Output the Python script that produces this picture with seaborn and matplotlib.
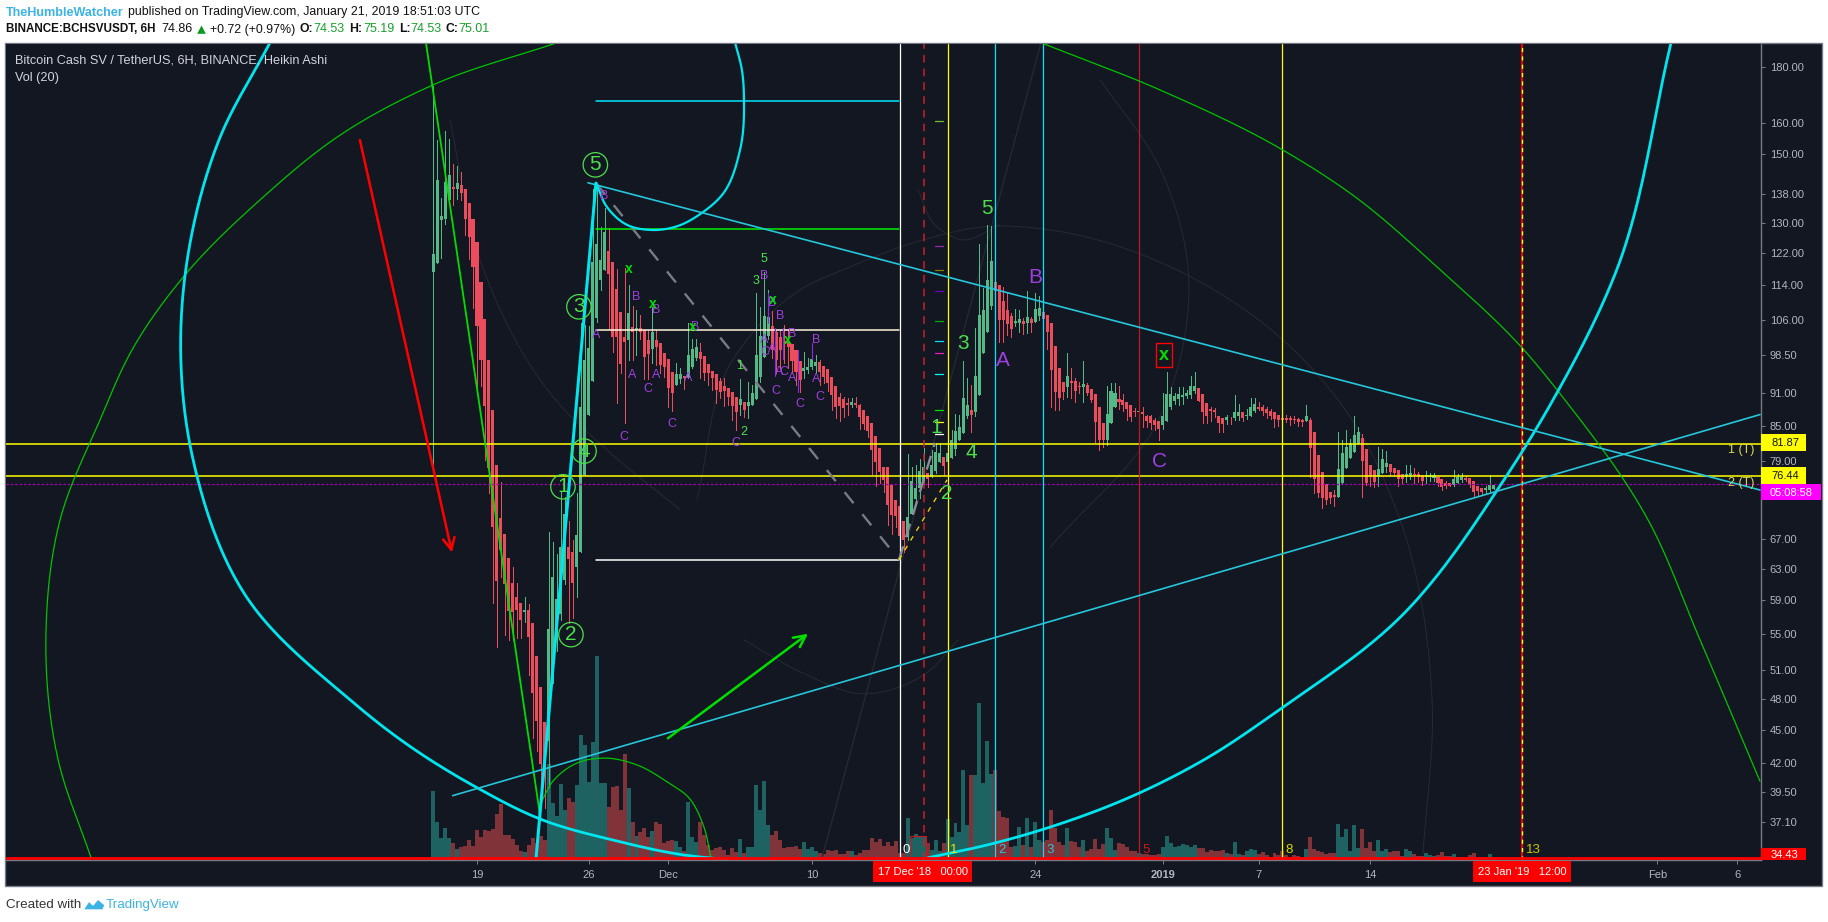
import numpy as np
import pandas as pd
import seaborn as sns
import matplotlib
matplotlib.use("Agg")
import matplotlib.pyplot as plt
from matplotlib.patches import Rectangle, Polygon

# ---------- candles (Heikin Ashi, 6H bars, first bar 16 Nov 2018 06:00) ----------
opens = [117.3,119.5,130.7,131,136.3,140,139.5,140.6,139.5,135.5,
 131,124.9,114.8,106.3,97.6,87.9,78.3,70,67.7,64.5,
 61.2,59.4,58.7,57.6,57.8,56.2,52.5,49.2,45.7,43.9,
 49.6,55.6,57.3,61.6,66,65.3,63.2,65.3,76.7,87,
 93.4,106.5,115.3,117.8,122.5,119.7,113.1,107.8,102.3,101.7,
 104.6,103.9,104.3,103.9,101.7,99.8,101.7,101,99,97.8,
 95.1,92.6,93.8,94.3,94,96.1,98,99.2,98.4,96.8,
 95.3,94.7,93.4,92.4,92,91.2,90.2,88.8,89.3,88.6,
 88.8,89.9,94.2,98.2,102.5,104.8,103.3,102.3,101.5,101.3,
 100.8,99.6,97.4,95.3,95.5,96.1,96.4,97.2,96.3,95.7,
 94.2,92.4,90.2,89.8,89.1,88.8,89.1,88.8,87.9,86.8,
 85.5,83.2,81.1,78,78,75.1,72.8,71.8,69.7,67.4,
 70.7,72.9,74.6,75.7,77,76.4,77.3,78.8,79.6,78.8,
 79.4,81,82.5,83.7,86.8,87.9,87.4,90.7,98.9,103.5,
 109.1,114.8,114.1,110.3,108.3,107,105.4,105.4,105.9,105.4,
 106.3,105.7,107,107.8,107.2,105.4,100.4,95.9,93.2,92.2,
 93.4,93.4,92.4,92.2,92.6,91.8,90.8,88.4,85.5,82.5,
 85.5,88.4,89.9,89.7,89.3,88.8,87.6,87.4,87.5,86.8,
 86.8,86,85.8,85.1,85.8,88.3,89.5,89.9,90.2,90.4,
 90.6,91.4,92,90.8,89.2,88,87.9,86.8,86.4,86,
 86.4,86.4,86.8,87.4,86.7,86.8,87.6,88.4,88.4,88,
 87.6,87.4,87,86.3,86.3,86.3,86.2,86.2,86,85.8,
 86,83.9,80,77.2,75.3,74,73.5,73.2,75.4,77.8,
 79.4,80.5,81.8,82.8,81,78.3,77.5,76.4,77,78,
 78.4,77.8,77.5,76.9,76.4,76.4,76.9,76.9,76.7,76.4,
 76.4,76.2,76.4,76,75.4,75.4,75.1,75.4,75.9,76.2,
 76.2,75.7,75,74.6,74.3,74.3,74.53]
closes = [121.7,142.1,131.8,141.5,143.6,139.5,141.2,138.3,131,126.2,
 118.5,104.8,97.6,88.6,77.8,68.7,61.4,65.6,61,57.7,
 57.6,57.8,56.6,57.8,54.6,48.6,45.8,41.9,41.9,55.5,
 61.9,59.2,65.9,70.6,64.3,61.2,67.6,88.4,97.6,100,
 119.7,124.4,120.2,127.5,116.7,102.3,102.3,96.8,101.3,107.6,
 103.3,104.3,103.5,98.2,98.8,103.5,100.2,96.5,96.1,92,
 91,94.7,94.7,94,98.6,99.8,100.2,97.8,95,95,
 94,91.6,91.2,91.4,90.2,88.6,87.5,89.9,87.9,89.3,
 91,98.6,102.5,107,106.8,99.6,97.6,99.6,100.8,100.2,
 97.4,95.1,93.6,95.9,96.1,97.8,97.2,95.1,94.2,93,
 90.7,88.4,88.6,88.2,88.8,89.3,88.8,86.6,85.3,84.1,
 80.8,78.8,77.2,75.9,72,70.5,70.4,67.5,66.9,70.2,
 75.7,74.6,77.3,77.9,76,78.3,80.4,80.3,78.1,80.3,
 82.5,84.1,84.8,90,88.8,87,94.4,107.2,108.3,115.3,
 120,112.7,106.1,106.1,105.2,104.1,105.9,106.3,105.2,106.8,
 105.4,108.5,108.8,106.3,103.3,95.5,91.2,90,91.2,94.4,
 93,91.4,92.2,92.8,91,89.7,85.7,82.5,82.5,87.1,
 91.4,91,89.3,88.8,88,86.6,87.4,87.6,87.1,85.9,
 85.4,85.1,84.4,86.8,90.8,90.8,90.4,90.8,90.6,91,
 92.4,92.4,89.5,87.4,86.8,87.6,87.4,85.5,85.3,86.6,
 86.3,87.5,87.5,86.4,87,88.4,89,88,87.6,87.2,
 86.8,86.2,86,86.1,86.1,86,86.1,85.6,85.6,86.8,
 81.1,76,73.9,73.1,72.7,73,73.2,77.6,80.3,81.3,
 81.9,83.4,83.9,78.9,75.4,76.4,75.6,77.6,79.3,78.6,
 77.2,77,76,76,76.9,77,76.7,76.4,75.7,76.6,
 76.6,76.6,75.4,74.8,75,75,76,76.4,76.4,75.9,
 75.1,74,74.2,74,74.6,75.1,75.01]
highs = [173,154.5,136.9,157.5,154.8,147,146.3,144.5,139.5,135.5,
 131,124.9,114.8,106.3,97.6,87.9,78.3,75.6,67.7,64.5,
 63.3,61.2,58.7,59.4,58.5,56.2,52.5,49.2,45.7,68.1,
 66.6,65,74.2,73.2,69.6,66.9,73.9,105.4,105,104.8,
 139.5,141,128.8,134,128.5,119.7,118,107.8,118.2,114,
 109.1,108.3,107.2,103.9,103.9,109,103.9,101,99,97.8,
 95.1,97,96,94.3,105.4,102,102,101,98.4,96.8,
 95.3,94.7,94,94,92,91.2,90.2,93.8,89.3,93.2,
 92.6,112.2,109,117.2,112.9,108,104,104,105,104,
 100.8,99.6,97.4,99.2,98,99.4,98.5,97.6,96.3,95.7,
 94.2,92.4,91,90.2,90,90,90.2,89,87.9,86.8,
 85.5,83.2,81.1,78,78,75.1,72.8,71.8,69.7,80.1,
 77.9,78.3,79.3,81.1,77,80.8,82,82,79.6,85.5,
 84.3,87.1,87,97.4,94,92.6,104.3,124.3,113.4,129.3,
 129,124.4,114.1,113.6,112.2,107.5,108.5,108.3,106.5,112.7,
 106.8,112.2,111.4,110,107.2,105.4,100.4,95.9,93.2,99,
 96,94,93.2,97.4,93,91.8,90.8,88.4,85.5,92.4,
 93,93,92.4,90.8,89.3,88.8,88.2,89,88.4,87,
 87,86.3,85.8,91,95.1,92.2,91,92.2,92.2,91.6,
 94.4,95.1,92,90.8,89.2,88.4,88.2,86.8,86.4,87,
 86.6,90.6,89,87.4,88,90,90,89.3,88.8,88.4,
 88,87.5,87,88,86.9,86.8,86.7,86.4,86.2,88.8,
 86.3,83.9,80,77.2,75.3,74,74.3,83.8,82.5,84.3,
 82.7,86.8,84.8,83.5,81,78.3,77.5,81.3,81,80.6,
 78.4,77.8,77.5,76.9,78.3,78.3,77.8,77.2,76.7,77.3,
 77,77,76.4,76,75.7,75.4,77.5,76.9,77,76.5,
 76.2,75.7,75,74.6,75,76.7,75.19]
lows = [78.2,119.5,120.7,129.6,135.5,134.8,136.6,136.3,126.7,120.5,
 108.8,91.6,92.4,79.1,73.9,58.7,53.5,61.9,54.8,54.3,
 54.3,54.5,54.5,56.4,50.5,44.2,43,38.7,38.2,39.9,
 49.6,53,56.6,61,56.2,56.9,59.4,65.3,76.7,87,
 93.4,105.6,113,117.8,104.1,99.2,89.2,95,85.4,97.6,
 97.6,98.6,102,93.8,93.8,97,96.5,95,94.2,88.3,
 87.7,92.6,93,91.8,94,96,97.6,94,93.6,92.6,
 91.6,89.2,90,88.6,88.8,86,84.3,87,86.5,86.4,
 88.8,89.9,93.2,98.2,102,98,95,96,97,96,
 95,92.6,91.2,94,95,95.7,95,92.6,93,91.4,
 87.9,86.4,85.8,86.5,87,88.4,88.4,84.5,84.5,83,
 76.9,74.9,75.4,74,69.1,67.7,68.8,64.2,65.3,66.9,
 70.7,72.7,73,75.3,74.7,76.4,77,78.8,76.7,78.8,
 79.4,80,82.5,83.7,86.4,83.8,86.8,90.7,98.9,103.5,
 108.6,101.3,101.3,101.3,102.8,102.3,104.8,103.5,103,103.1,
 103.5,105.7,106,103.6,99.8,88.4,87.9,87.9,89.9,90.2,
 90,89.4,91,89.4,90.6,89.3,82.2,80.8,81.3,81.6,
 85.5,88.4,88,87.6,86,85.8,86.8,86.6,84.8,84.8,
 84.4,84.2,82.5,84.5,85.8,88,89,88.8,89,90,
 90,91,89.5,85.5,85.5,85.8,86.5,83.9,83.9,85.3,
 85.3,86,86,85.8,86.2,86.7,87.5,87.8,87,86.4,
 86.2,84.8,85,85.3,85.6,85.2,85.5,85,85,85.8,
 76.4,73.9,73.2,71.6,72.2,72.3,71.9,73.2,75.4,77.8,
 79.4,80.5,81.8,73.2,75.1,75,74.8,75,77,77.2,
 76.5,76.5,74.9,75.4,75.6,76,75.4,75.6,75.1,75.4,
 75.7,75.7,75,74.3,74.6,74.9,75,75.4,75.6,75.7,
 74.8,73.2,73.5,73.5,73.8,73.8,74.53]
volumes = [69,38,22,32,22,17,11,13,14,20,
 14,30,23,30,29,31,46,56,25,25,
 21,15,9,8,15,22,17,24,20,96,
 57,44,76,50,62,58,75,125,115,78,
 118,204,77,77,53,73,74,50,106,72,
 38,24,28,32,23,29,38,36,17,19,
 20,19,13,9,58,23,18,38,25,15,
 10,12,13,10,5,12,8,21,7,13,
 13,75,50,79,35,25,29,20,12,13,
 13,14,11,18,11,13,9,7,6,10,
 9,10,6,6,9,9,5,7,10,10,
 22,18,21,14,18,14,19,7,7,42,
 22,26,23,23,17,10,20,9,17,41,
 23,37,28,90,35,85,85,157,77,119,
 86,90,49,43,42,13,14,33,15,42,
 13,38,20,18,20,
 50,32,18,15,32,19,18,13,20,9,
 11,21,11,16,32,22,10,17,16,13,
 9,9,7,6,6,5,5,6,13,24,
 17,13,14,16,15,13,15,12,12,8,
 10,9,9,10,7,6,18,6,5,9,
 11,10,6,8,5,3,7,5,9,5,
 3,5,4,3,11,23,11,9,8,6,
 7,7,36,23,31,9,35,12,31,12,
 18,9,20,9,11,8,9,9,4,11,
 9,6,4,4,7,5,4,5,8,4,
 4,6,3,3,3,5,7,3,3,3,6,3]
assert len(opens) == len(closes) == len(highs) == len(lows) == len(volumes), (len(opens), len(closes), len(highs), len(lows), len(volumes))

# x unit: days after 19 Nov 2018 00:00
first_bar_day = -2.75
bar_days = 0.25
tick_days = [0, 7, 12, 21, 35, 43, 49, 56, 74, 79]
tick_names = ["19", "26", "Dec", "10", "24", "2019", "7", "14", "Feb", "6"]
price_ticks = [180, 160, 150, 138, 130, 122, 114, 106, 98.5, 91, 85, 79, 67, 63, 59, 55, 51, 48, 45, 42, 39.5, 37.1]

# ---------- drawing tools, (day, price) ----------
levels_yellow = [81.87, 76.44]
level_now = 75.3
level_low = 34.43
fib_days = [26.5, 29.5, 32.5, 35.5, 41.5, 50.5, 65.5]
fib_names = ["0", "1", "2", "3", "5", "8", "13"]
fib_colors = ["#ffffff", "#ffff00", "#00e5ff", "#00e5ff", "#b71c1c", "#ffff00", "#ffff00"]
fib_label_days = [26.9, 29.88, 32.92, 35.93, 41.95, 50.91, 66.21]
fib_label_colors = ["#ffffff", "#e8e800", "#26c6da", "#26c6da", "#cc1818", "#d8d800", "#c8c800"]
retrace_days = [7.46, 26.46]
retrace_prices = [167.8, 128.2, 103.8, 64.2]
retrace_colors = ["#00e5ff", "#00ee00", "#fff3d8", "#ffffff"]

green_left = ([-24.2,-26.27,-27.02,-26.14,-23.64,-21.63,-18.31,-13.61,-8.59,-2.76,5.02],
              [34.43,42.3,55.5,69.8,86,99.6,116.5,136.3,156.1,173.4,189.4])
green_right = ([35.36,42.82,50.53,54.73,60.38,65.64,68.21,73.35,76.68,80.44],
               [189.4,171.6,151.3,138.3,117.8,99.6,89.7,70.1,54.3,40.4])
cyan_left = ([-12.98,-16.18,-17.87,-18.56,-17.87,-14.55,-7.96,-4.83,-0.06,4.01,8.59,13.1,15.61],
             [189.4,154.5,127.2,104.8,80,59.7,47.9,44.1,39.9,37.3,35.7,34.6,34.3])
cyan_right = ([28.03,32.48,35.93,41.5,45.64,50.47,57.81,64.39,67.46,71.35,74.86],
              [34.36,35.5,36.7,39.4,42.3,47.1,56.8,75.9,89.7,116.7,189.4])
cyan_small = ([7.46,8.15,9.40,10.97,12.54,14.11,15.36,16.49,16.74,16.61,16.18],
              [141.2,134.3,129.4,128,129,132.7,137.7,151.3,168,178.9,189.4])
green_small = ([4.08,4.70,6.33,8.03,10.03,11.97,13.23,14.23,14.67],
               [38.8,40.3,42,42.4,41.8,40.3,39.1,36.7,34.4])
faint_arcs = [
 ([13.79,16.05,20.25,23.39,27.96,32.17,35.93,44.27,50.53,54.74,57.87,59.88,59.31],
  [72.8,97.6,112.9,118.5,125.4,129,128,117,101.7,86.6,69.8,47.9,34.7]),
 ([-1.69,0.19,5.08,8.15,12.73], [161.1,120.2,89.2,80.8,71.3]),
 ([16.74,20.38,24.27,28.21,30.16], [54.3,50.7,48.5,50.7,54.3]),
 ([35.93,42.82,44.59,42.82,39.07], [65.9,86.6,117.8,145.6,175.2]),
 ([27.66,28.71,30.41,32.8], [139.2,129.4,125.4,129.4]),
]
trend_upper = ([6.96, 80.44], [141.3, 74.3])
trend_lower = ([-1.52, 80.44], [39.2, 87.0])
trend_green = ([-3.2, 3.99], [189.4, 37.3])
thick_cyan = ([3.70, 7.46], [34.36, 141.2])
dash_grey = ([7.46, 26.46], [141.2, 64.2])
dash_grey2 = ([26.46, 28.71], [64.2, 82])
dash_yellow = ([26.46, 29.47], [64.2, 75.9])
faint_line = ([21.63, 35.36], [34.4, 189.4])
arrow_red = ((-7.34, 154.5), (-1.57, 65.2))
arrow_green = ((11.97, 44.2), (20.75, 55))
tick_marks = [160.9, 123.9, 117.8, 112.7, 105.9, 101.5, 99, 94.7, 87.9, 85.6, 83.6]
tick_mark_colors = ["#6fbf30", "#9c27b0", "#808000", "#7000c0", "#00b000", "#00e5ff", "#e91ec0", "#00ffff", "#00e000", "#ffff00", "#ffffff"]
purple_sticks = [(18.25,112.2,105.4),(18.69,104.3,94.3),(19.19,104.3,97.8),(20.12,99.6,91.2),(21.0,101,97.8)]

circled = [("5",7.42,146.7),("3",6.39,109),("4",6.71,80.6),("1",5.39,74.8),("2",5.89,54.9)]
big_green = [("5",31.97,133.8),("3",30.47,100.9),("1",28.78,84.7),("4",30.97,80.4),("2",29.47,73.7)]
big_purple = [("A",32.98,97.4),("B",34.98,116),("C",42.76,78.8)]
small_purple = [("B",7.96,137.4),("A",7.46,102.8),("B",9.97,111.3),("A",9.72,94.5),("B",11.22,108.3),
 ("A",11.22,94.5),("C",10.72,91.8),("C",9.22,83),("C",12.23,85.3),("B",13.67,104.5),("A",13.23,94),
 ("C",16.24,82),("B",17.99,116.2),("B",18.5,109.9),("B",19,107),("B",19.75,103),("A",17.99,101.7),
 ("C",18.06,99.2),("A",18.5,99.8),("A",18.94,95.1),("C",19.25,95.1),("C",18.75,91.4),("A",19.75,94),
 ("A",21.25,93.8),("B",21.25,101.7),("C",20.25,89),("C",21.5,90.2)]
small_green = [("5",17.99,120.5),("3",17.49,115.1),("1",16.49,96.3),("2",16.74,83.8)]
green_x = [(9.53,118),(11.03,109.7),(13.54,104.5),(18.56,110.6),(19.5,101.7)]
boxed_x = (43.07, 98.4)
box_x_days = (42.57, 43.57); box_x_prices = (96.1, 101)
box_vol_days = (27.15, 28.15); box_vol_prices = (34.43, 36)

# ---------- style ----------
W, H = 1828, 922
BG = "#131722"; GREY = "#787b86"; TXT = "#b2b5be"
UP = "#53b987"; DOWN = "#eb4d5c"; VUP = "#1f6262"; VDOWN = "#803339"
sns.set_theme(style="dark", rc={"axes.grid": False, "axes.facecolor": BG, "figure.facecolor": "white"})
plt.rcParams["font.family"] = ["Liberation Sans", "DejaVu Sans"]

fig = plt.figure(figsize=(W / 100, H / 100), dpi=100)
def fx(px): return px / W
def fy(py): return 1 - py / H
def box(x0, y0, x1, y1, color, z=10, edgecolor="none", linewidth=0):
    fig.patches.append(Rectangle((fx(x0), fy(y1)), (x1 - x0) / W, (y1 - y0) / H,
                                 transform=fig.transFigure, facecolor=color, zorder=z,
                                 edgecolor=edgecolor, linewidth=linewidth))
def ftext(x, y, s, color, size=8, ha="left", weight="normal", z=11):
    fig.text(fx(x), fy(y), s, color=color, fontsize=size, ha=ha, va="center", weight=weight, zorder=z)

box(5, 43, 1821.5, 885.5, BG, z=-1, edgecolor=GREY, linewidth=1)

pos = [fx(6), fy(860), 1755 / W, 816 / H]
axv = fig.add_axes(pos, zorder=1, facecolor=BG)
ax = axv.twinx()
ax.set_zorder(2)
ax.patch.set_visible(False)

days = first_bar_day + bar_days * np.arange(len(opens))
o, c, h, l = map(np.array, (opens, closes, highs, lows))
frame = pd.DataFrame({"day": days, "volume": volumes})
sns.barplot(data=frame, x="day", y="volume", native_scale=True, width=1, saturation=1,
            errorbar=None, color=VUP, linewidth=0, ax=axv)
for patch, up in zip(axv.patches, c >= o):
    patch.set_facecolor(VUP if up else VDOWN)
    patch.set_edgecolor("none")
    patch.set_antialiased(False)
axv.set_ylim(0, 816)
axv.set_xlabel(""); axv.set_ylabel("")
axv.set_yticks([])

ax.set_yscale("log")
ax.set_ylim(34.26, 188.9)
ax.yaxis.set_minor_locator(matplotlib.ticker.NullLocator())
ax.yaxis.set_minor_formatter(matplotlib.ticker.NullFormatter())

# smooth curve through the read anchor points (chord-length Hermite in screen-like units)
def smooth(xs, ys, n=24):
    P = np.column_stack([np.asarray(xs, float) * 15.95, np.log(np.asarray(ys, float)) * 477.6])
    dt = np.maximum(np.hypot(*np.diff(P, axis=0).T), 1e-6)
    m = np.zeros_like(P)
    m[0] = (P[1] - P[0]) / dt[0]
    m[-1] = (P[-1] - P[-2]) / dt[-1]
    for i in range(1, len(P) - 1):
        m[i] = ((P[i + 1] - P[i]) / dt[i] * dt[i - 1] + (P[i] - P[i - 1]) / dt[i - 1] * dt[i]) / (dt[i] + dt[i - 1])
    out = []
    for i in range(len(P) - 1):
        t = np.linspace(0, 1, n, endpoint=False)[:, None]
        out.append((2*t**3 - 3*t**2 + 1) * P[i] + (t**3 - 2*t**2 + t) * dt[i] * m[i]
                   + (-2*t**3 + 3*t**2) * P[i + 1] + (t**3 - t**2) * dt[i] * m[i + 1])
    out.append(P[-1:])
    out = np.vstack(out)
    return out[:, 0] / 15.95, np.exp(out[:, 1] / 477.6)

for xs, ys in faint_arcs:
    ax.plot(*smooth(xs, ys), color="#262a35", lw=0.7, zorder=1)
ax.plot(*faint_line, color="#262a35", lw=0.9, zorder=1)

# candles
col = np.where(c >= o, UP, DOWN)
ax.vlines(days, l, h, colors=col, linewidth=0.72, zorder=2, antialiased=False)
ax.bar(days, np.abs(c - o), bottom=np.minimum(o, c), width=0.19, color=col, linewidth=0,
       antialiased=False, zorder=2.1)

# levels and time zones
for p in levels_yellow:
    ax.axhline(p, color="#ffff00", lw=1.1, zorder=3)
ax.axhline(level_now, color="#a000b0", lw=0.9, ls=(0, (2, 1.5)), zorder=3)
ax.axhline(level_low, color="#ff0000", lw=2, zorder=3.5)
for i, (dv, cl) in enumerate(zip(fib_days, fib_colors)):
    if i == 6:
        continue
    ax.axvline(dv, color=cl, lw=0.9, zorder=3)
ax.axvline(28, color="#c8202a", lw=1.1, ls=(0, (5, 4)), zorder=3)
ax.axvline(fib_days[6], color="#ff0000", lw=1.4, zorder=3)
ax.axvline(fib_days[6], color="#ffff00", lw=1, ls=(0, (3, 3)), zorder=3.1)
for p, cl in zip(retrace_prices, retrace_colors):
    ax.plot(retrace_days, [p, p], color=cl, lw=1.1, zorder=3)

# lines and arcs
ax.plot(*smooth(*green_left), color="#00c400", lw=0.9, zorder=3)
ax.plot(*smooth(*green_right), color="#00c400", lw=0.9, zorder=3)
ax.plot(*smooth(*green_small), color="#00c400", lw=0.9, zorder=3)
ax.plot(*smooth(*cyan_left), color="#00e5ee", lw=2, zorder=3.2)
ax.plot(*smooth(*cyan_right), color="#00e5ee", lw=2, zorder=3.2)
ax.plot(*smooth(*cyan_small), color="#00e5ee", lw=1.6, zorder=3.2)
ax.plot(*trend_upper, color="#26c6da", lw=1.2, zorder=3.2)
ax.plot(*trend_lower, color="#26c6da", lw=1.2, zorder=3.2)
ax.plot(*trend_green, color="#00dd00", lw=1.3, zorder=3.1)
ax.plot(*thick_cyan, color="#00e5ee", lw=2.2, zorder=3.3)
ax.plot(*dash_grey, color="#787b86", lw=1.7, ls=(0, (6, 6)), zorder=3)
ax.plot(*dash_grey2, color="#8a8d96", lw=1.7, ls=(0, (6, 4)), zorder=3)
ax.plot(*dash_yellow, color="#ffdd00", lw=0.9, ls=(0, (4, 5)), zorder=3.1)
for (dv, top, bot) in purple_sticks:
    ax.plot([dv, dv], [bot, top], color="#8a2be2", lw=0.8, zorder=3.2)
for p, cl in zip(tick_marks, tick_mark_colors):
    ax.plot([28.71, 29.22], [p, p], color=cl, lw=0.9, zorder=3.2)
ax.plot([box_x_days[0], box_x_days[1], box_x_days[1], box_x_days[0], box_x_days[0]],
        [box_x_prices[0], box_x_prices[0], box_x_prices[1], box_x_prices[1], box_x_prices[0]],
        color="#ff0000", lw=1, zorder=4)
ax.plot([box_vol_days[0], box_vol_days[1], box_vol_days[1], box_vol_days[0], box_vol_days[0]],
        [box_vol_prices[0], box_vol_prices[0], box_vol_prices[1], box_vol_prices[1], box_vol_prices[0]],
        color="#cc1818", lw=0.8, zorder=3.4)
ax.annotate("", xy=arrow_red[1], xytext=arrow_red[0],
            arrowprops=dict(arrowstyle="->,head_length=0.7,head_width=0.35", color="#ff0000", lw=1.8, shrinkA=0, shrinkB=0), zorder=3.5)
ax.annotate("", xy=arrow_green[1], xytext=arrow_green[0],
            arrowprops=dict(arrowstyle="->,head_length=0.7,head_width=0.35", color="#00e000", lw=1.8, shrinkA=0, shrinkB=0), zorder=3.5)

# labels
LG = "#4ce04c"; PU = "#a03fe0"
ax.scatter([d for _, d, _ in circled], [p for _, _, p in circled], s=310, facecolors="none",
           edgecolors=LG, linewidths=0.9, zorder=4)
for s, d, p in circled:
    ax.text(d, p, s, color=LG, fontsize=15, ha="center", va="center", zorder=5)
for s, d, p in big_green:
    ax.text(d, p, s, color=LG, fontsize=15, ha="center", va="center", zorder=5)
for s, d, p in big_purple:
    ax.text(d, p, s, color=PU, fontsize=15, ha="center", va="center", zorder=5)
for s, d, p in small_purple:
    ax.text(d, p, s, color=PU, fontsize=9, ha="center", va="center", zorder=5)
for s, d, p in small_green:
    ax.text(d, p, s, color=LG, fontsize=9, ha="center", va="center", zorder=5)
for d, p in green_x:
    ax.text(d, p, "x", color="#00e000", fontsize=10, weight="bold", ha="center", va="center", zorder=5)
ax.text(*boxed_x, "x", color="#00e000", fontsize=13, weight="bold", ha="center", va="center", zorder=5)
for s, d, cl in zip(fib_names, fib_label_days, fib_label_colors):
    ax.text(d, 34.95, s, color=cl, fontsize=9.5, ha="center", va="center", zorder=5)
ax.text(80.1, 80.8, "1 (T)", color="#d8d850", fontsize=9, ha="right", va="center", zorder=5)
ax.text(80.1, 75.4, "2 (T)", color="#d8d850", fontsize=9, ha="right", va="center", zorder=5)

# axes
axv.set_xlim((6 - 477) / 15.95, (1761 - 477) / 15.95)
ax.set_xlim((6 - 477) / 15.95, (1761 - 477) / 15.95)
for a in (ax, axv):
    for s in ("left", "top", "bottom", "right"):
        a.spines[s].set_visible(False)
for s in ("right", "bottom"):
    axv.spines[s].set_visible(True); axv.spines[s].set_color(GREY); axv.spines[s].set_linewidth(1)
axv.set_xticks(tick_days)
axv.set_xticklabels(tick_names)
axv.tick_params(axis="x", colors=GREY, labelcolor=TXT, length=3.2, width=0.75, labelsize=8, pad=4, bottom=True)
axv.get_xticklabels()[5].set_weight("bold")
ax.set_yticks(price_ticks)
ax.set_yticklabels([f"{v:.2f}" for v in price_ticks])
ax.tick_params(axis="y", which="major", colors=GREY, labelcolor=TXT, length=3.2, width=0.75, labelsize=8, pad=3, right=True)

# price and time tags
box(1761, 434, 1806, 451, "#ffff00"); ftext(1771, 442.8, "81.87", "#111111", 8)
box(1761, 467, 1806, 484, "#ffff00"); ftext(1771, 476, "76.44", "#111111", 8)
box(1761, 484, 1821, 500, "#ff00ff"); ftext(1770, 492.5, "05:08:58", "#ffffff", 8)
box(1761, 848, 1806, 859.5, "#ff0000"); ftext(1771, 855, "34.43", "#ffffff", 8)
box(873, 860.5, 972, 882, "#ff0000"); ftext(922.5, 872, "17 Dec '18   00:00", "#ffffff", 8, ha="center")
box(1473, 860.5, 1571, 882, "#ff0000"); ftext(1522, 872, "23 Jan '19   12:00", "#ffffff", 8, ha="center")

# header
ftext(15, 60.5, "Bitcoin Cash SV / TetherUS, 6H, BINANCE, Heikin Ashi", "#d1d4dc", 9.2)
ftext(15, 77.5, "Vol (20)", "#d1d4dc", 9.2)
HB = "#111111"; GN = "#16a02c"
ftext(6, 12.5, "TheHumbleWatcher", "#3bb3e4", 9.1, weight="bold")
ftext(128, 12.5, "published on TradingView.com, January 21, 2019 18:51:03 UTC", HB, 8.95)
ftext(6, 29.5, "BINANCE:BCHSVUSDT, 6H", HB, 8.4, weight="bold")
ftext(161, 29.5, "74.86", HB, 9)
fig.patches.append(Polygon([(fx(196), fy(34.5)), (fx(207), fy(34.5)), (fx(201.5), fy(24))],
                           transform=fig.transFigure, facecolor="#089a1c", zorder=11))
ftext(210, 29.5, "+0.72 (+0.97%)", HB, 8.95)
for x, s in [(299, "O:"), (349, "H:"), (399, "L:"), (446, "C:")]:
    ftext(x, 29.5, s, HB, 8.8, weight="bold")
for x, s in [(313, "74.53"), (363, "75.19"), (410, "74.53"), (458, "75.01")]:
    ftext(x, 29.5, s, GN, 9)

# footer
ftext(6, 905, "Created with", "#333333", 9.6)
fig.patches.append(Polygon([(fx(x), fy(y)) for x, y in [(83, 910), (89, 901), (93, 905), (98, 899), (105, 905), (103, 910)]],
                           transform=fig.transFigure, facecolor="#3bb3e4", zorder=11))
ftext(106, 905, "TradingView", "#3bb3e4", 9.6)

fig.savefig("out.png", dpi=100)
